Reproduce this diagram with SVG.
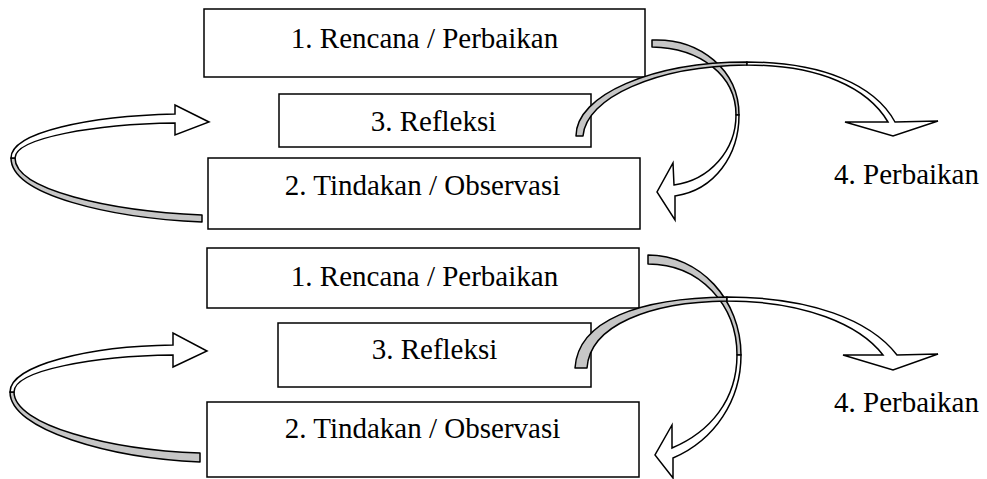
<svg xmlns="http://www.w3.org/2000/svg" width="987" height="479" viewBox="0 0 987 479">
<style>
.box{fill:#fff;stroke:#000;stroke-width:1.5}
.t{font-family:"Liberation Serif","Times New Roman",serif;font-size:29px;fill:#000}
.m{text-anchor:middle}
.g{fill:#c6c6c6;stroke:#000;stroke-width:1.5;stroke-linejoin:round}
.w{fill:#fff;stroke:#000;stroke-width:1.5;stroke-linejoin:miter}
</style>
<rect width="987" height="479" fill="#fff"/>
<g id="top-rencana"><rect class="box" x="204" y="9" width="441" height="68"/><text class="t m" x="424.5" y="48">1. Rencana / Perbaikan</text></g>
<g id="top-refleksi"><rect class="box" x="279" y="94" width="312" height="53"/><text class="t m" x="433.5" y="131">3. Refleksi</text></g>
<g id="top-tindakan"><rect class="box" x="208" y="158" width="432" height="71"/><text class="t m" x="422.5" y="195">2. Tindakan / Observasi</text></g>
<g id="top-perbaikan"><text class="t" x="834" y="184">4. Perbaikan</text></g>
<g id="bot-rencana"><rect class="box" x="207" y="248" width="432" height="60"/><text class="t m" x="424.5" y="286">1. Rencana / Perbaikan</text></g>
<g id="bot-refleksi"><rect class="box" x="278" y="323" width="313" height="64"/><text class="t m" x="434.5" y="359">3. Refleksi</text></g>
<g id="bot-tindakan"><rect class="box" x="207" y="402" width="432" height="75"/><text class="t m" x="422.5" y="438">2. Tindakan / Observasi</text></g>
<g id="bot-perbaikan"><text class="t" x="834" y="412">4. Perbaikan</text></g>
<g id="connectors">
<!-- top set -->
<path class="g" d="M202,222 C110,218 11,195 11,158 L15,158 C15,190 110,211 202,215 Z"/>
<path class="w" d="M11,158 C11,132 90,116 175,114 L175,105 L209,122 L175,135 L175,123 C95,124 15,138 15,158 Z"/>
<path class="g" d="M652,40 C700,38 739,70 739,115 L736,115 C736,75 700,48 652,47 Z"/>
<path class="w" d="M739,115 C739,155 715,190 675,196 L675,220 L657,192 L673,163 L674,185 C710,180 736,150 736,115 Z"/>
<path class="g" d="M576,136 C576,95 652,62 747,62 L747,65 C655,66 586,98 583,136 Z"/>
<path class="w" d="M747,62 C822,62 875,85 895,122 L938,121 L893,136 L845,122 L888,122 C868,88 820,65 747,65 Z"/>
<!-- bottom set -->
<path class="g" d="M200,462 C110,458 10,430 10,392 L14,392 C14,425 110,450 200,453 Z"/>
<path class="w" d="M10,392 C10,365 90,346 173,345 L173,333 L207,351 L173,367 L173,355 C95,356 14,370 14,392 Z"/>
<path class="g" d="M648,255 C700,255 741,300 741,355 L737,355 C737,305 700,264 648,264 Z"/>
<path class="w" d="M741,355 C741,400 715,440 673,458 L673,478 L655,455 L672,425 L672,448 C710,432 737,400 737,355 Z"/>
<path class="g" d="M575,368 C578,320 640,298 727,297 L727,301 C650,302 590,325 587,368 Z"/>
<path class="w" d="M727,297 C810,297 870,320 897,355 L938,354 L893,370 L843,355 L883,355 C860,325 805,301 727,301 Z"/>
</g>
</svg>
